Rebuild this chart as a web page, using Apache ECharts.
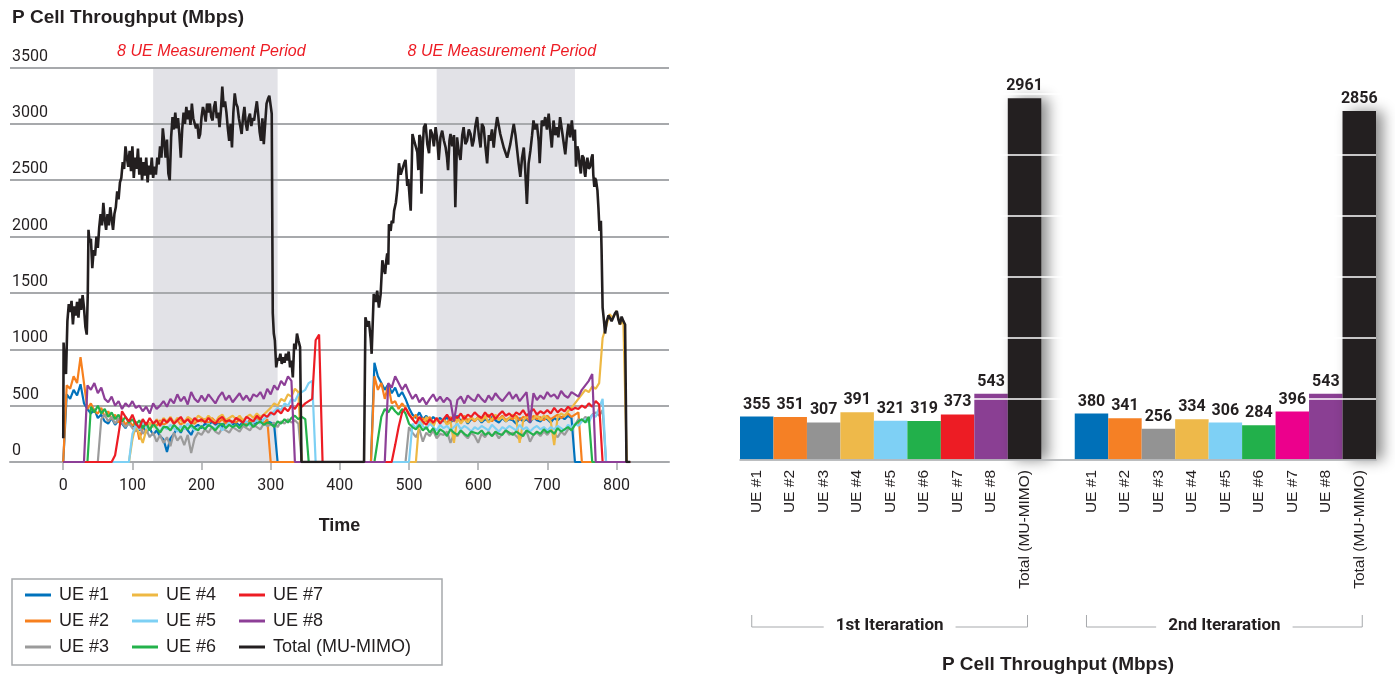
<!DOCTYPE html>
<html>
<head>
<meta charset="utf-8">
<title>P Cell Throughput</title>
<script src="https://cdn.jsdelivr.net/npm/echarts@6/dist/echarts.min.js"></script>
<style>
  html, body { margin: 0; padding: 0; background: #ffffff; }
  #chart { width: 1395px; height: 680px; }
</style>
</head>
<body>
<div id="chart"></div>
<script>
// ---- Time series: sample times shared by the per-UE throughput traces ----
const times = [
  0, 5, 10, 15, 20, 25, 30, 35, 40, 45,
  50, 55, 60, 65, 70, 75, 80, 85, 90, 95,
  100, 105, 110, 115, 120, 125, 130, 135, 140, 145,
  150, 155, 160, 165, 170, 175, 180, 185, 190, 195,
  200, 205, 210, 215, 220, 225, 230, 235, 240, 245,
  250, 255, 260, 265, 270, 275, 280, 285, 290, 295,
  300, 305, 310, 315, 320, 325, 330, 335, 340, 345,
  350, 355, 360, 365, 370, 375, 380, 385, 390, 395,
  400, 405, 410, 415, 420, 425, 430, 435, 440, 445,
  450, 455, 460, 465, 470, 475, 480, 485, 490, 495,
  500, 505, 510, 515, 520, 525, 530, 535, 540, 545,
  550, 555, 560, 565, 570, 575, 580, 585, 590, 595,
  600, 605, 610, 615, 620, 625, 630, 635, 640, 645,
  650, 655, 660, 665, 670, 675, 680, 685, 690, 695,
  700, 705, 710, 715, 720, 725, 730, 735, 740, 745,
  750, 755, 760, 765, 770, 775, 780, 785, 790, 795,
  800, 805, 810, 815, 820
];

// Per-UE throughput (Mbps) at each entry of `times`
const ue1 = [
  0, 600, 560, 640, 590, 690, 520, 470, 430, 470,
  390, 420, 360, 340, 390, 330, 370, 340, 300, 360,
  310, 350, 280, 320, 260, 300, 240, 280, 230, 200,
  90, 210, 250, 300, 260, 320, 280, 240, 310, 330,
  300, 340, 320, 360, 330, 350, 310, 360, 340, 330,
  350, 320, 360, 340, 370, 330, 350, 380, 340, 360,
  350, 330, 0, 0, 0, 0, 0, 0, 0, 0,
  0, 0, 0, 0, 0, 0, 0, 0, 0, 0,
  0, 0, 0, 0, 0, 0, 0, 0, 0, 0,
  880, 760, 700, 640, 690, 610, 660, 580, 620, 560,
  480, 420, 390, 440, 380, 410, 360, 400, 370, 390,
  360, 400, 350, 380, 410, 360, 390, 340, 380, 370,
  390, 350, 380, 360, 400, 370, 350, 390, 360, 380,
  370, 340, 390, 360, 380, 350, 400, 370, 360, 390,
  380, 350, 390, 370, 400, 380, 410, 390, 0, 0,
  0, 0, 0, 0, 0, 0, 0, 0, 0, 0,
  0, 0, 0, 0, 0
];
const ue2 = [
  0, 680, 650, 760, 700, 930, 700, 470, 520, 450,
  430, 480, 400, 450, 380, 420, 350, 390, 330, 370,
  320, 360, 200, 300, 340, 290, 350, 320, 370, 330,
  350, 380, 340, 370, 330, 360, 390, 350, 340, 370,
  360, 380, 340, 390, 360, 350, 380, 340, 370, 360,
  350, 380, 360, 330, 370, 350, 390, 360, 340, 380,
  0, 0, 0, 0, 0, 0, 0, 0, 0, 0,
  0, 0, 0, 0, 0, 0, 0, 0, 0, 0,
  0, 0, 0, 0, 0, 0, 0, 0, 0, 0,
  760, 640, 700, 560, 680, 520, 540, 470, 520, 480,
  430, 380, 420, 340, 390, 360, 400, 340, 380, 350,
  380, 340, 400, 360, 390, 350, 410, 370, 390, 360,
  400, 370, 390, 420, 360, 400, 380, 410, 370, 390,
  380, 410, 370, 400, 390, 360, 410, 380, 400, 370,
  410, 380, 400, 420, 390, 410, 430, 400, 420, 440,
  0, 0, 0, 0, 0, 0, 0, 0, 0, 0,
  0, 0, 0, 0, 0
];
const ue3 = [
  0, 0, 0, 0, 0, 0, 0, 0, 0, 0,
  0, 380, 420, 360, 400, 340, 390, 350, 310, 340,
  300, 270, 330, 250, 290, 220, 260, 180, 240, 170,
  220, 140, 260, 190, 230, 150, 240, 80, 210, 260,
  240, 290, 260, 310, 270, 250, 300, 280, 260, 310,
  290, 270, 320, 300, 280, 330, 310, 290, 340, 320,
  330, 350, 310, 360, 340, 380, 350, 370, 340, 0,
  0, 0, 0, 0, 0, 0, 0, 0, 0, 0,
  0, 0, 0, 0, 0, 0, 0, 0, 0, 0,
  0, 0, 0, 0, 0, 0, 0, 0, 0, 0,
  310, 260, 220, 290, 180, 260, 230, 280, 210, 250,
  240, 270, 170, 250, 230, 280, 240, 210, 260, 230,
  170, 250, 220, 270, 230, 260, 210, 250, 280, 240,
  260, 230, 200, 250, 270, 180, 240, 260, 230, 270,
  240, 280, 250, 220, 270, 240, 290, 300, 330, 380,
  360, 400, 380, 420, 440, 410, 460, 0, 0, 0,
  0, 0, 0, 0, 0
];
const ue4 = [
  0, 0, 0, 0, 0, 0, 0, 0, 0, 0,
  0, 0, 0, 0, 0, 0, 0, 0, 0, 0,
  200, 330, 250, 170, 280, 350, 310, 380, 340, 390,
  360, 400, 350, 390, 370, 340, 400, 380, 360, 410,
  390, 370, 410, 380, 350, 400, 420, 370, 390, 410,
  380, 410, 370, 400, 420, 390, 430, 400, 420, 450,
  480, 520, 500, 560, 540, 600, 580, 650, 620, 0,
  0, 0, 0, 0, 0, 0, 0, 0, 0, 0,
  0, 0, 0, 0, 0, 0, 0, 0, 0, 0,
  0, 0, 0, 0, 0, 0, 0, 0, 0, 0,
  0, 0, 0, 380, 330, 400, 360, 310, 390, 350,
  380, 330, 360, 170, 400, 340, 380, 350, 400, 370,
  390, 360, 410, 350, 380, 420, 370, 400, 360, 390,
  420, 380, 170, 360, 410, 390, 380, 420, 370, 410,
  390, 360, 150, 400, 430, 410, 450, 480, 520, 560,
  600, 640, 620, 670, 650, 700, 1100, 1200, 1310, 1280,
  1340, 1220, 1250, 0, 0
];
const ue5 = [
  0, 0, 0, 0, 0, 0, 0, 0, 0, 0,
  0, 0, 0, 0, 0, 0, 0, 0, 0, 0,
  250, 330, 290, 360, 310, 280, 340, 300, 270, 320,
  290, 330, 300, 270, 320, 290, 340, 310, 280, 300,
  320, 290, 340, 310, 300, 330, 280, 320, 350, 310,
  330, 300, 340, 360, 320, 350, 370, 340, 380, 400,
  420, 450, 480, 460, 520, 500, 560, 540, 600, 620,
  640, 700, 720, 0, 0, 0, 0, 0, 0, 0,
  0, 0, 0, 0, 0, 0, 0, 0, 0, 0,
  0, 0, 0, 0, 0, 0, 0, 0, 0, 0,
  0, 340, 300, 360, 320, 290, 340, 310, 280, 330,
  300, 320, 280, 310, 340, 290, 320, 300, 270, 310,
  290, 320, 300, 280, 330, 300, 270, 310, 290, 320,
  300, 280, 330, 290, 310, 270, 300, 320, 290, 310,
  280, 310, 290, 320, 300, 280, 330, 310, 340, 320,
  360, 380, 350, 420, 400, 480, 560, 0, 0, 0,
  0, 0, 0, 0, 0
];
const ue6 = [
  0, 0, 0, 0, 0, 0, 0, 0, 490, 440,
  500, 430, 470, 400, 440, 380, 420, 360, 400, 350,
  380, 330, 370, 300, 350, 280, 340, 300, 260, 310,
  310, 280, 330, 300, 270, 320, 290, 330, 300, 280,
  320, 290, 330, 310, 280, 320, 340, 300, 330, 310,
  330, 300, 340, 320, 350, 310, 340, 360, 330, 350,
  340, 310, 360, 340, 380, 350, 390, 410, 380, 400,
  380, 0, 0, 0, 0, 0, 0, 0, 0, 0,
  0, 0, 0, 0, 0, 0, 0, 0, 0, 0,
  0, 200, 400, 470, 440, 490, 450, 420, 470, 430,
  340, 310, 290, 330, 280, 310, 260, 300, 240, 290,
  270, 230, 290, 260, 240, 280, 250, 230, 270, 260,
  250, 280, 240, 260, 230, 270, 250, 240, 280, 260,
  240, 270, 250, 230, 280, 260, 240, 270, 250, 290,
  260, 280, 250, 300, 270, 290, 310, 280, 330, 360,
  380, 350, 400, 0, 0, 0, 0, 0, 0, 0,
  0, 0, 0, 0, 0
];
const ue7 = [
  0, 0, 0, 0, 0, 0, 0, 0, 0, 0,
  0, 0, 0, 0, 0, 60, 250, 450, 400, 360,
  420, 340, 300, 380, 330, 390, 340, 370, 320, 380,
  350, 390, 340, 370, 400, 350, 380, 340, 390, 360,
  380, 350, 390, 360, 340, 380, 400, 360, 370, 350,
  390, 370, 350, 400, 380, 360, 410, 380, 420, 400,
  440, 420, 460, 430, 480, 450, 500, 470, 520, 490,
  520, 540, 560, 1080, 1130, 0, 0, 0, 0, 0,
  0, 0, 0, 0, 0, 0, 0, 0, 0, 0,
  0, 0, 0, 0, 0, 0, 150, 310, 440, 480,
  420, 380, 340, 400, 360, 330, 380, 350, 390, 340,
  380, 420, 370, 410, 390, 430, 380, 420, 400, 440,
  410, 390, 440, 400, 430, 380, 420, 450, 410, 430,
  400, 440, 420, 460, 410, 440, 470, 420, 450, 430,
  460, 430, 480, 440, 470, 450, 490, 460, 480, 470,
  500, 480, 520, 490, 540, 510, 0, 0, 0, 0,
  0, 0, 0, 0, 0
];
const ue8 = [
  0, 0, 0, 0, 0, 0, 0, 680, 640, 700,
  610, 660, 560, 530, 580, 500, 540, 470, 520, 490,
  540, 480, 500, 450, 490, 430, 520, 470, 500, 540,
  490, 560, 520, 600, 540, 580, 510, 620, 560, 530,
  590, 540, 600, 560, 520, 580, 620, 550, 590, 530,
  570, 610, 550, 590, 540, 600, 580, 620, 560, 650,
  600, 680, 640, 720, 680, 760, 720, 0, 0, 0,
  0, 0, 0, 0, 0, 0, 0, 0, 0, 0,
  0, 0, 0, 0, 0, 0, 0, 0, 0, 0,
  0, 0, 0, 0, 700, 660, 760, 700, 640, 690,
  620, 560, 600, 530, 570, 510, 560, 600, 540, 580,
  530, 570, 540, 360, 550, 580, 520, 590, 560, 540,
  600, 560, 530, 590, 550, 610, 570, 540, 580, 620,
  560, 600, 540, 580, 620, 350, 610, 550, 590, 560,
  620, 580, 600, 560, 630, 590, 570, 620, 600, 580,
  640, 680, 720, 780, 0, 0, 0, 0, 0, 0,
  0, 0, 0, 0, 0
];

// Total cell throughput (MU-MIMO) as [time, Mbps]
const totalPoints = [
  [0,210],[0.5,1060],[2,880],[4,780],[6,1250],[8,1400],[10,1330],[12,1430],[14,1220],[16,1380],
  [18,1300],[20,1420],[22,1280],[24,1450],[26,1350],[28,1480],[30,1370],[32,1200],[34,1130],[35.5,1500],
  [36.5,2060],[38,1950],[40,1980],[42,1720],[44,1880],[46,1830],[48,2000],[50,1900],[52,2080],[54,2200],
  [56,2100],[58,2300],[60,2150],[62,2060],[64,2200],[66,2100],[68,2260],[70,2160],[72,2060],[74,2200],
  [76,2260],[78,2400],[80,2330],[82,2480],[84,2520],[86,2660],[88,2600],[90,2800],[92,2700],[94,2620],
  [96,2760],[98,2580],[100,2800],[102,2520],[104,2700],[106,2600],[108,2780],[110,2550],[112,2700],[114,2500],
  [116,2660],[118,2540],[120,2700],[122,2480],[124,2630],[126,2550],[128,2700],[130,2520],[132,2620],[134,2550],
  [136,2700],[138,2640],[140,2800],[142,2700],[144,2960],[146,2840],[148,2700],[150,2860],[152,2560],[154,2500],
  [156,2880],[158,3060],[160,2950],[162,3100],[164,2960],[166,3050],[168,2900],[170,2700],[172,2950],[174,3100],
  [176,3000],[178,3150],[180,3040],[182,3120],[184,2990],[186,3180],[188,3050],[190,3060],[192,2960],[194,3000],
  [196,2870],[198,2910],[200,3060],[202,3150],[204,3100],[206,3020],[208,3180],[210,3100],[212,3180],[214,3060],
  [216,3030],[218,3150],[220,3200],[222,3050],[224,3100],[226,2970],[228,3120],[230,3330],[232,3150],[234,3200],
  [236,3100],[238,2960],[240,2850],[242,3000],[244,2790],[246,3100],[248,3270],[250,3180],[252,3150],[254,3050],
  [256,2980],[258,2910],[260,3060],[262,3150],[264,3000],[266,2940],[268,3050],[270,3090],[272,2980],[274,3050],
  [276,3030],[278,3120],[280,3200],[282,3080],[284,2930],[286,2850],[288,3050],[290,2820],[292,3000],[294,3180],
  [296,3220],[298,3250],[300,3160],[301.5,3090],[303,1320],[304.5,1140],[306,1080],[308,840],[310,920],[312,900],
  [314,960],[316,870],[318,930],[320,880],[322,960],[324,900],[326,980],[328,840],[330,900],[332,750],
  [334,1050],[336,1000],[338,1140],[340,1080],[342.5,1020],[344.5,0],[435,0],[437,1285],[440,1200],[442,1250],
  [444.5,1100],[446,960],[449,1490],[452,1420],[454,1520],[456.5,1370],[459,1490],[461.5,1790],[464,1700],[465.5,1670],
  [467,1780],[468.5,1850],[470,1750],[471,2110],[473.5,2050],[475,2140],[477,2120],[478.5,2230],[481,2300],[483,2410],
  [485.5,2650],[488,2550],[490,2590],[493,2650],[495,2680],[497.5,2450],[499,2510],[501.5,2300],[502.5,2230],[505,2910],
  [507,2860],[509.5,2850],[512,2750],[513.5,2590],[515,2900],[516.5,2880],[518,2380],[520,2800],[521.5,2970],[524,3000],
  [526.5,2820],[529,2740],[531,2950],[533.5,2910],[536,2800],[538.5,2970],[541,2850],[543,2680],[545.5,2880],[548,2940],
  [550.5,2850],[553,2790],[555,2700],[556.5,2590],[558.5,2850],[560,2910],[562.5,2800],[565,2900],[567,2260],[569.5,2880],
  [572,2750],[574.5,2680],[577,2900],[579,2970],[581.5,2820],[584,2850],[586.5,2950],[589,2910],[591.5,2800],[593.5,2850],
  [596,2980],[598.5,3060],[601,2900],[603.5,2790],[605.5,3000],[608,2970],[610.5,2800],[613,2650],[615.5,2900],[617.5,2850],
  [620,2950],[622.5,2790],[625,2950],[627.5,3060],[632,2910],[637,2790],[642,2700],[646.5,2820],[651.5,3000],[654,2900],
  [656,2790],[658.5,2650],[661,2530],[663.5,2700],[666,2790],[668,2600],[670.5,2290],[673,2650],[675.5,2760],[678,2900],
  [680,3030],[682.5,2950],[685,3000],[687.5,2850],[689,2650],[691,2900],[692,3030],[694.5,2980],[697,3060],[699.5,2950],
  [702,3090],[704,2950],[706.5,2790],[709,3030],[711.5,2900],[714,2970],[716,2880],[718.5,3060],[721,2950],[723.5,2940],
  [726,2730],[728.5,2900],[730.5,3000],[733,2880],[735.5,3030],[738,2850],[740,2950],[741.5,2620],[743.5,2800],[745,2760],
  [746.5,2650],[748.5,2560],[750.5,2720],[752.5,2700],[754,2560],[755,2530],[756.5,2650],[758,2700],[760,2600],[762,2620],
  [764,2700],[765.5,2730],[766.5,2550],[768,2440],[769,2520],[770.5,2500],[772.5,2410],[774,2250],[775.5,2050],[777.5,2140],
  [778.5,1880],[780,1370],[782,1250],[783.5,1140],[786,1250],[788.5,1300],[791,1310],[793,1250],[795.5,1285],[798,1320],
  [800.5,1340],[803,1260],[805,1220],[807.5,1290],[810,1250],[812.5,1220],[814.5,0],[820,0]
];

const ueNames = ['UE #1', 'UE #2', 'UE #3', 'UE #4', 'UE #5', 'UE #6', 'UE #7', 'UE #8'];
const totalName = 'Total (MU-MIMO)';
const lineColors = ['#0072bc', '#f7801e', '#9b9b9b', '#eeb843', '#7dd0f4', '#23b24b', '#ed1c24', '#8d3f97'];
const totalColor = '#231f20';
const xTickValues = [0, 100, 200, 300, 400, 500, 600, 700, 800];
const measurementPeriods = [[130, 310], [540, 740]];
const periodLabel = '8 UE Measurement Period';

// ---- Averages per iteration (bar chart) ----
const barCategories = ['UE #1', 'UE #2', 'UE #3', 'UE #4', 'UE #5', 'UE #6', 'UE #7', 'UE #8', 'Total (MU-MIMO)'];
const iteration1 = [355, 351, 307, 391, 321, 319, 373, 543, 2961];
const iteration2 = [380, 341, 256, 334, 306, 284, 396, 543, 2856];
const iteration1Colors = ['#0070b8', '#f58025', '#939393', '#eeb94a', '#7ed0f5', '#22b04b', '#ed1c24', '#8a3f93', '#231f20'];
const iteration2Colors = ['#0070b8', '#f58025', '#939393', '#eeb94a', '#7ed0f5', '#22b04b', '#ec008c', '#8a3f93', '#231f20'];
const iterationNames = ['1st Iteraration', '2nd Iteraration'];

const INK = '#231f20';
const GRID_GRAY = '#a7a9ac';
const NUM_FONT = 'Roboto, "DejaVu Sans Condensed", sans-serif';
const SANS = '"Liberation Sans", Arial, sans-serif';

const chart = echarts.init(document.getElementById('chart'), null, { renderer: 'canvas' });

const ueSeries = [ue1, ue2, ue3, ue4, ue5, ue6, ue7, ue8].map((vals, i) => ({
  type: 'line',
  name: ueNames[i],
  xAxisIndex: 0,
  yAxisIndex: 0,
  data: times.map((t, k) => [t, vals[k]]),
  showSymbol: false,
  symbol: 'none',
  z: 3,
  lineStyle: { color: lineColors[i], width: 2.2 },
  itemStyle: { color: lineColors[i] },
  animation: false
}));

const totalSeries = {
  type: 'line',
  name: totalName,
  xAxisIndex: 0,
  yAxisIndex: 0,
  data: totalPoints,
  showSymbol: false,
  symbol: 'none',
  z: 4,
  lineStyle: { color: totalColor, width: 2.6 },
  itemStyle: { color: totalColor },
  animation: false
};

// Shaded measurement windows
const shadeSeries = {
  type: 'line',
  name: 'periods',
  xAxisIndex: 0,
  yAxisIndex: 0,
  data: [],
  z: 1,
  silent: true,
  markArea: {
    silent: true,
    itemStyle: { color: '#e2e2e7' },
    label: {
      show: true,
      position: 'top',
      distance: 8,
      offset: [-4, 0],
      color: '#ed1c24',
      fontStyle: 'italic',
      fontFamily: SANS,
      fontSize: 16
    },
    data: measurementPeriods.map(p => [{ xAxis: p[0], name: periodLabel }, { xAxis: p[1] }])
  }
};

function makeBar(v, color, isTotal) {
  const style = { color: color };
  if (isTotal) {
    style.shadowColor = 'rgba(0,0,0,0.45)';
    style.shadowBlur = 14;
    style.shadowOffsetX = 7;
  }
  return { value: v, itemStyle: style };
}

const barData = [];
iteration1.forEach((v, i) => barData.push(makeBar(v, iteration1Colors[i], i === 8)));
barData.push({ value: '-' });
iteration2.forEach((v, i) => barData.push(makeBar(v, iteration2Colors[i], i === 8)));

// Same values again, used only to carry the value labels above the white grid lines
const labelData = iteration1.concat(['-']).concat(iteration2);

const barAxisData = barCategories.concat(['']).concat(barCategories);

const legendColumns = [
  [ueNames[0], ueNames[1], ueNames[2]],
  [ueNames[3], ueNames[4], ueNames[5]],
  [ueNames[6], ueNames[7], totalName]
];
const legendLefts = [25, 132, 239];

const plainNumber = v => String(v);

const option = {
  animation: false,
  backgroundColor: '#ffffff',
  title: [{
    text: 'P Cell Throughput (Mbps)',
    left: 12,
    top: 8,
    padding: 0,
    textStyle: { fontFamily: SANS, fontWeight: 'bold', fontSize: 19, color: INK }
  }],
  legend: legendColumns.map((col, c) => ({
    data: col,
    orient: 'vertical',
    left: legendLefts[c],
    top: 585,
    padding: 0,
    itemWidth: 26,
    itemHeight: 3,
    itemGap: 6,
    icon: 'rect',
    selectedMode: false,
    textStyle: { fontFamily: SANS, fontSize: 18, color: INK, lineHeight: 20, padding: [0, 0, 0, 3] }
  })),
  grid: [
    { left: 10, right: 726, top: 67.5, bottom: 218 },
    { left: 740, right: 19, top: 32.3, bottom: 220 }
  ],
  xAxis: [
    {
      type: 'value',
      gridIndex: 0,
      min: -77,
      max: 876,
      name: 'Time',
      nameLocation: 'middle',
      nameGap: 55,
      nameTextStyle: { fontFamily: SANS, fontWeight: 'bold', fontSize: 18, color: INK },
      axisLine: { show: true, lineStyle: { color: GRID_GRAY, width: 2 } },
      axisTick: { show: true, customValues: xTickValues, length: 8, lineStyle: { color: GRID_GRAY, width: 1.5 } },
      axisLabel: { customValues: xTickValues, formatter: plainNumber, margin: 16, fontFamily: NUM_FONT, fontSize: 16, color: INK },
      splitLine: { show: false }
    },
    {
      type: 'category',
      gridIndex: 1,
      data: barAxisData,
      z: 6,
      axisLine: { show: true, lineStyle: { color: GRID_GRAY, width: 1.5 } },
      axisTick: { show: false },
      axisLabel: { interval: 0, rotate: 90, margin: 10, fontFamily: SANS, fontSize: 15.5, color: INK }
    }
  ],
  yAxis: [
    {
      type: 'value',
      gridIndex: 0,
      min: 0,
      max: 3500,
      interval: 500,
      z: 2,
      axisLine: { show: false },
      axisTick: { show: false },
      axisLabel: {
        inside: true,
        margin: 2,
        formatter: plainNumber,
        verticalAlign: 'bottom',
        padding: [0, 0, 3, 0],
        fontFamily: NUM_FONT,
        fontSize: 16,
        color: INK
      },
      splitLine: { show: true, lineStyle: { color: GRID_GRAY, width: 2 } }
    },
    {
      type: 'value',
      gridIndex: 1,
      min: 0,
      max: 3500,
      interval: 500,
      z: 5,
      axisLine: { show: false },
      axisTick: { show: false },
      axisLabel: { show: false },
      splitLine: { show: true, lineStyle: { color: '#ffffff', width: 1.5 } }
    }
  ],
  series: [shadeSeries].concat(ueSeries).concat([totalSeries]).concat([
    {
      type: 'bar',
      name: 'iterations',
      xAxisIndex: 1,
      yAxisIndex: 1,
      data: barData,
      barCategoryGap: '0%',
      barGap: '-100%',
      z: 2,
      animation: false
    },
    {
      type: 'bar',
      name: 'values',
      xAxisIndex: 1,
      yAxisIndex: 1,
      data: labelData,
      barCategoryGap: '0%',
      barGap: '-100%',
      z: 7,
      silent: true,
      itemStyle: { color: 'rgba(0,0,0,0)' },
      label: {
        show: true,
        position: 'top',
        distance: 4,
        fontFamily: NUM_FONT,
        fontWeight: 'bold',
        fontSize: 16,
        color: INK
      },
      animation: false
    }
  ])
};

chart.setOption(option);

// Iteration brackets and the bar-chart caption, placed from the category axis
function catX(index) {
  return chart.convertToPixel({ xAxisIndex: 1 }, index);
}
const groups = [[0, 8], [10, 18]];
const bracketY = 627;
const bracketTop = 615;
const graphics = [{
  type: 'rect',
  shape: { x: 12, y: 579, width: 430, height: 86 },
  style: { fill: null, stroke: GRID_GRAY, lineWidth: 1.5 },
  silent: true
}];
groups.forEach((g, i) => {
  const x0 = catX(g[0]) - 5;
  const x1 = catX(g[1]) + 3;
  graphics.push({
    type: 'polyline',
    shape: { points: [[x0, bracketTop], [x0, bracketY], [x1, bracketY], [x1, bracketTop]] },
    style: { fill: null, stroke: GRID_GRAY, lineWidth: 1 },
    silent: true
  });
  graphics.push({
    type: 'text',
    x: (x0 + x1) / 2,
    y: bracketY - 1,
    style: {
      text: iterationNames[i],
      align: 'center',
      verticalAlign: 'middle',
      font: 'bold 17px ' + NUM_FONT,
      fill: INK,
      backgroundColor: '#ffffff',
      padding: [0, 12]
    },
    z: 10,
    silent: true
  });
});
graphics.push({
  type: 'text',
  x: (catX(0) + catX(18)) / 2,
  y: 665,
  style: {
    text: 'P Cell Throughput (Mbps)',
    align: 'center',
    verticalAlign: 'middle',
    font: 'bold 19px ' + SANS,
    fill: INK
  },
  silent: true
});
chart.setOption({ graphic: graphics });
</script>
</body>
</html>
